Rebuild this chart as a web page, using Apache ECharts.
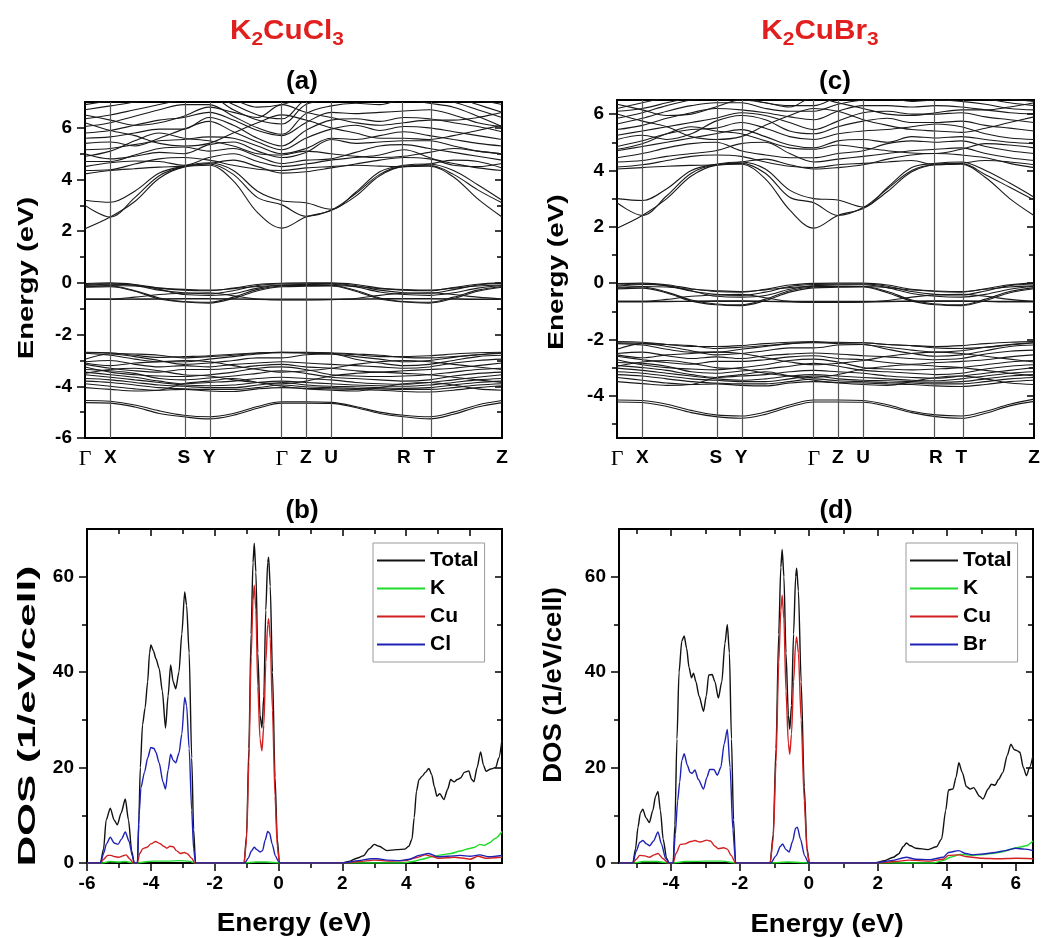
<!DOCTYPE html>
<html>
<head>
<meta charset="utf-8">
<script src="https://cdn.jsdelivr.net/npm/echarts@6/dist/echarts.min.js"></script>
<style>
html,body{margin:0;padding:0;background:#fff;}
#chart{width:1042px;height:938px;}
</style>
</head>
<body>
<div id="chart"></div>
<script>
// ---------- k-path ----------
// path coordinate (fraction of total length) of each sampled band energy
const kSample = [0, 0.0607, 0.1194, 0.1782, 0.2369, 0.2976, 0.3557, 0.4139, 0.4720, 0.5296, 0.5904, 0.6486, 0.7068, 0.7648, 0.8255, 0.8837, 0.9418, 1.0];
// high-symmetry points along the path
const kPointPos = [0, 0.0607, 0.2369, 0.2976, 0.4720, 0.5296, 0.5904, 0.7648, 0.8255, 1.0];
const kPointNames = ['Γ', 'X', 'S', 'Y', 'Γ', 'Z', 'U', 'R', 'T', 'Z'];

// ---------- K2CuCl3 bands (eV), one value per kSample ----------
const cbCl = [
  [2.10, 2.55, 3.15, 4.05, 4.48, 4.55, 3.95, 2.72, 2.12, 2.55, 2.80, 3.35, 4.15, 4.50, 4.52, 4.10, 3.25, 2.55],
  [3.00, 2.55, 3.30, 4.15, 4.50, 4.60, 4.20, 3.30, 3.02, 2.58, 2.82, 3.45, 4.20, 4.52, 4.55, 4.20, 3.60, 3.10],
  [3.20, 3.12, 3.55, 4.25, 4.52, 4.65, 4.35, 3.55, 3.18, 3.10, 2.85, 3.50, 4.30, 4.55, 4.60, 4.35, 3.80, 3.20],
  [4.22, 4.35, 4.42, 4.48, 4.52, 4.62, 4.75, 4.50, 4.25, 4.30, 4.45, 4.60, 4.75, 4.85, 4.80, 4.62, 4.45, 4.35],
  [4.35, 4.38, 4.60, 4.80, 4.85, 4.75, 4.55, 4.40, 4.35, 4.45, 4.50, 4.55, 4.52, 4.50, 4.60, 4.75, 4.70, 4.45],
  [4.50, 4.65, 4.72, 4.70, 4.55, 4.85, 5.00, 4.70, 4.50, 4.60, 4.75, 4.85, 4.95, 5.15, 4.85, 4.55, 4.50, 4.62],
  [4.70, 4.70, 4.95, 5.20, 5.26, 5.10, 5.20, 4.90, 4.62, 4.75, 4.80, 5.05, 5.30, 5.35, 5.20, 5.05, 4.90, 4.75],
  [5.00, 4.80, 4.90, 5.05, 5.00, 5.35, 5.45, 5.10, 4.85, 5.05, 5.55, 5.40, 5.45, 5.50, 5.50, 5.30, 5.10, 5.00],
  [5.15, 5.20, 5.35, 5.50, 5.55, 5.65, 5.60, 5.30, 5.00, 5.20, 5.60, 5.55, 5.70, 5.85, 5.70, 5.55, 5.40, 5.30],
  [5.40, 5.45, 5.30, 5.60, 5.95, 6.25, 5.85, 5.45, 5.15, 5.60, 5.95, 6.10, 5.90, 6.05, 6.00, 5.85, 5.70, 5.55],
  [5.60, 5.65, 5.80, 5.95, 5.95, 6.40, 6.10, 5.60, 5.30, 5.90, 6.30, 6.35, 6.25, 6.40, 6.35, 6.20, 6.05, 5.85],
  [5.80, 5.90, 6.10, 6.30, 6.40, 6.60, 6.30, 5.90, 5.70, 6.20, 6.60, 6.55, 6.60, 6.65, 6.70, 6.50, 6.20, 6.05],
  [6.05, 6.20, 6.45, 6.70, 6.90, 6.90, 6.45, 6.00, 5.75, 6.55, 6.85, 6.95, 6.90, 7.10, 6.95, 6.80, 6.45, 6.05],
  [6.35, 6.50, 6.70, 6.90, 7.10, 7.20, 6.70, 6.30, 6.15, 6.90, 7.10, 7.20, 7.10, 7.20, 7.20, 7.00, 6.70, 6.40],
  [6.70, 6.85, 7.00, 7.20, 7.20, 7.30, 6.90, 6.50, 6.35, 7.10, 7.30, 7.30, 7.30, 7.30, 7.30, 7.20, 6.90, 6.60],
  [6.90, 7.05, 7.20, 7.30, 7.30, 7.40, 7.10, 6.80, 6.90, 7.20, 7.40, 7.40, 7.40, 7.40, 7.40, 7.30, 7.10, 6.90],
  [4.90, 5.10, 5.50, 5.80, 5.60, 5.50, 5.30, 5.00, 4.95, 5.10, 5.00, 4.90, 4.85, 4.90, 5.05, 5.20, 5.10, 5.00],
  [6.20, 5.90, 5.70, 5.40, 5.30, 5.40, 5.80, 6.20, 6.50, 6.30, 6.00, 5.80, 5.60, 5.60, 5.55, 5.70, 5.90, 6.10],
  [6.50, 6.30, 6.10, 6.20, 6.45, 6.80, 6.60, 6.40, 6.90, 6.60, 6.40, 6.20, 6.10, 6.20, 6.30, 6.30, 6.40, 6.60]
];
const cuBandsCl = [
  [-0.02, 0.00, -0.06, -0.20, -0.28, -0.30, -0.20, -0.06, -0.01, 0.00, 0.00, -0.06, -0.20, -0.28, -0.30, -0.18, -0.05, 0.00],
  [-0.06, -0.03, -0.10, -0.28, -0.38, -0.42, -0.30, -0.10, -0.04, -0.03, -0.02, -0.10, -0.28, -0.38, -0.40, -0.26, -0.08, -0.02],
  [-0.12, -0.10, -0.12, -0.20, -0.25, -0.28, -0.22, -0.14, -0.10, -0.10, -0.10, -0.14, -0.22, -0.26, -0.28, -0.20, -0.12, -0.08],
  [-0.15, -0.12, -0.30, -0.58, -0.72, -0.75, -0.55, -0.25, -0.12, -0.10, -0.10, -0.28, -0.58, -0.72, -0.75, -0.55, -0.28, -0.14],
  [-0.17, -0.15, -0.32, -0.62, -0.74, -0.78, -0.60, -0.30, -0.15, -0.13, -0.12, -0.32, -0.62, -0.74, -0.78, -0.60, -0.32, -0.17],
  [-0.62, -0.62, -0.62, -0.62, -0.62, -0.62, -0.62, -0.62, -0.62, -0.62, -0.62, -0.62, -0.62, -0.62, -0.62, -0.62, -0.62, -0.62],
  [-0.64, -0.64, -0.63, -0.62, -0.60, -0.60, -0.62, -0.64, -0.65, -0.65, -0.64, -0.63, -0.61, -0.60, -0.60, -0.62, -0.64, -0.64],
  [-0.10, -0.05, -0.08, -0.25, -0.45, -0.48, -0.42, -0.20, -0.08, -0.06, -0.05, -0.15, -0.35, -0.45, -0.48, -0.38, -0.20, -0.10],
  [-0.62, -0.62, -0.55, -0.45, -0.40, -0.38, -0.50, -0.62, -0.66, -0.66, -0.65, -0.60, -0.48, -0.40, -0.38, -0.45, -0.55, -0.62]
];
const clBands = [
  [-2.68, -2.70, -2.80, -2.88, -2.85, -2.82, -2.76, -2.70, -2.68, -2.70, -2.72, -2.78, -2.85, -2.85, -2.82, -2.75, -2.70, -2.68],
  [-2.72, -2.80, -2.95, -3.05, -3.05, -2.95, -2.85, -2.75, -2.70, -2.72, -2.75, -2.85, -2.95, -3.05, -3.00, -2.88, -2.78, -2.72],
  [-2.95, -2.75, -2.85, -3.00, -3.15, -3.10, -3.00, -2.90, -2.90, -2.78, -2.75, -2.95, -3.10, -3.20, -3.15, -3.00, -2.85, -2.80],
  [-3.05, -3.00, -3.15, -3.25, -3.20, -3.25, -3.15, -3.10, -3.05, -3.10, -3.15, -3.20, -3.25, -3.30, -3.25, -3.10, -3.00, -2.95],
  [-3.15, -3.30, -3.40, -3.45, -3.35, -3.35, -3.30, -3.20, -3.15, -3.25, -3.30, -3.40, -3.45, -3.40, -3.35, -3.30, -3.20, -3.10],
  [-3.25, -3.45, -3.55, -3.60, -3.62, -3.55, -3.45, -3.30, -3.25, -3.35, -3.55, -3.60, -3.62, -3.60, -3.55, -3.45, -3.35, -3.30],
  [-3.35, -3.40, -3.50, -3.70, -3.75, -3.68, -3.60, -3.50, -3.40, -3.50, -3.65, -3.70, -3.75, -3.80, -3.75, -3.60, -3.50, -3.45],
  [-3.45, -3.55, -3.65, -3.80, -3.90, -3.85, -3.80, -3.70, -3.65, -3.70, -3.75, -3.85, -3.90, -3.92, -3.85, -3.75, -3.65, -3.55],
  [-3.55, -3.65, -3.75, -3.85, -3.95, -3.98, -3.95, -3.85, -3.80, -3.85, -3.90, -3.95, -3.98, -4.00, -3.95, -3.85, -3.75, -3.70],
  [-3.70, -3.75, -3.85, -3.95, -4.00, -4.05, -4.05, -3.95, -3.85, -3.95, -4.00, -4.02, -4.05, -4.08, -4.05, -3.95, -3.85, -3.80],
  [-3.80, -3.85, -3.95, -4.05, -4.10, -4.12, -4.12, -4.05, -3.95, -4.02, -4.05, -4.08, -4.10, -4.12, -4.12, -4.05, -3.95, -3.90],
  [-3.90, -4.00, -4.10, -4.15, -4.12, -4.18, -4.20, -4.10, -4.05, -4.08, -4.10, -4.12, -4.15, -4.20, -4.22, -4.15, -4.05, -3.98],
  [-4.05, -4.12, -4.18, -4.15, -3.90, -3.80, -3.70, -3.85, -4.00, -4.10, -4.15, -4.18, -4.05, -3.90, -3.85, -3.95, -4.10, -4.15],
  [-3.50, -3.35, -3.30, -3.40, -3.55, -3.60, -3.75, -3.85, -3.90, -3.80, -3.60, -3.50, -3.45, -3.50, -3.55, -3.65, -3.75, -3.85],
  [-2.70, -2.72, -2.75, -2.80, -2.90, -2.85, -2.80, -2.72, -2.68, -2.68, -2.70, -2.75, -2.80, -2.88, -2.90, -2.85, -2.78, -2.70],
  [-3.10, -3.20, -3.10, -3.05, -3.00, -3.05, -3.20, -3.35, -3.45, -3.40, -3.30, -3.15, -3.05, -3.00, -3.05, -3.15, -3.25, -3.35]
];
const lowBandsCl = [
  [-4.55, -4.58, -4.72, -4.95, -5.12, -5.18, -5.05, -4.78, -4.60, -4.60, -4.62, -4.78, -5.00, -5.12, -5.18, -5.00, -4.72, -4.55],
  [-4.63, -4.65, -4.80, -5.05, -5.18, -5.26, -5.12, -4.85, -4.65, -4.65, -4.66, -4.82, -5.05, -5.18, -5.26, -5.08, -4.80, -4.63]
];

// ---------- K2CuBr3 bands (eV) ----------
const cbBr = [
  [1.95, 2.40, 3.00, 3.80, 4.18, 4.22, 3.70, 2.60, 1.95, 2.40, 2.65, 3.25, 3.95, 4.20, 4.22, 3.75, 3.00, 2.40],
  [2.85, 2.40, 3.10, 3.90, 4.20, 4.25, 3.90, 3.05, 2.85, 2.40, 2.68, 3.35, 4.00, 4.22, 4.25, 3.85, 3.40, 2.95],
  [3.00, 2.93, 3.35, 4.00, 4.22, 4.30, 4.05, 3.30, 3.00, 2.95, 2.70, 3.40, 4.10, 4.25, 4.30, 4.00, 3.55, 3.05],
  [4.05, 4.10, 4.15, 4.18, 4.20, 4.30, 4.40, 4.20, 4.05, 4.10, 4.20, 4.40, 4.55, 4.60, 4.55, 4.45, 4.25, 4.10],
  [4.12, 4.20, 4.35, 4.50, 4.55, 4.50, 4.30, 4.15, 4.10, 4.20, 4.25, 4.30, 4.35, 4.20, 4.25, 4.35, 4.30, 4.20],
  [4.30, 4.35, 4.50, 4.60, 4.70, 4.95, 5.00, 4.60, 4.30, 4.40, 4.50, 4.60, 4.70, 4.75, 4.80, 4.60, 4.45, 4.35],
  [4.45, 4.60, 4.80, 4.95, 5.00, 4.70, 4.55, 4.45, 4.45, 4.60, 4.70, 4.95, 5.05, 5.00, 5.05, 4.85, 4.70, 4.60],
  [4.70, 4.85, 5.00, 5.15, 5.30, 5.45, 5.20, 4.90, 4.80, 5.05, 5.10, 5.00, 5.20, 5.15, 5.20, 5.10, 5.00, 4.95],
  [4.85, 5.05, 5.30, 5.45, 5.50, 5.70, 5.50, 5.20, 5.10, 5.30, 5.40, 5.45, 5.55, 5.65, 5.55, 5.30, 5.15, 5.10],
  [5.10, 5.25, 5.10, 5.30, 5.75, 5.95, 5.80, 5.40, 5.30, 5.55, 5.75, 5.85, 5.70, 5.70, 5.75, 5.60, 5.50, 5.40],
  [5.25, 5.40, 5.55, 5.70, 5.85, 6.05, 5.95, 5.70, 5.45, 5.75, 6.05, 6.10, 6.00, 6.00, 6.05, 5.90, 5.80, 5.70],
  [5.45, 5.60, 5.85, 6.05, 6.20, 6.15, 6.05, 5.90, 5.80, 6.10, 6.30, 6.30, 6.25, 6.30, 6.25, 6.15, 6.05, 6.00],
  [5.65, 5.85, 6.10, 6.30, 6.40, 6.40, 6.20, 6.10, 6.10, 6.35, 6.50, 6.55, 6.45, 6.50, 6.45, 6.35, 6.20, 6.15],
  [5.85, 6.05, 6.30, 6.50, 6.60, 6.60, 6.40, 6.30, 6.30, 6.60, 6.70, 6.70, 6.65, 6.70, 6.65, 6.55, 6.40, 6.30],
  [6.10, 6.20, 6.40, 6.60, 6.80, 6.70, 6.60, 6.50, 6.55, 6.75, 6.90, 6.90, 6.85, 6.90, 6.85, 6.70, 6.55, 6.45],
  [6.20, 6.40, 6.60, 6.80, 6.90, 6.90, 6.80, 6.70, 6.80, 6.90, 7.00, 7.00, 7.00, 7.00, 7.00, 6.90, 6.75, 6.60],
  [4.75, 4.95, 5.30, 5.55, 5.40, 5.30, 5.05, 4.80, 4.75, 4.90, 4.80, 4.70, 4.62, 4.60, 4.75, 4.95, 4.90, 4.80],
  [6.00, 5.75, 5.55, 5.20, 5.10, 5.20, 5.60, 5.95, 6.20, 6.10, 5.80, 5.60, 5.45, 5.40, 5.35, 5.50, 5.70, 5.90],
  [6.35, 6.15, 5.95, 6.00, 6.25, 6.50, 6.40, 6.25, 6.60, 6.40, 6.20, 6.00, 5.95, 6.05, 6.15, 6.15, 6.25, 6.40]
];
const cuBandsBr = [
  [-0.02, 0.00, -0.06, -0.20, -0.30, -0.32, -0.22, -0.07, -0.01, 0.00, 0.00, -0.07, -0.22, -0.30, -0.32, -0.20, -0.06, 0.00],
  [-0.07, -0.03, -0.10, -0.28, -0.40, -0.44, -0.32, -0.12, -0.05, -0.04, -0.03, -0.11, -0.30, -0.40, -0.42, -0.28, -0.09, -0.03],
  [-0.15, -0.12, -0.14, -0.22, -0.27, -0.30, -0.24, -0.16, -0.12, -0.12, -0.12, -0.16, -0.24, -0.28, -0.30, -0.22, -0.14, -0.10],
  [-0.18, -0.14, -0.32, -0.60, -0.74, -0.77, -0.57, -0.27, -0.14, -0.12, -0.12, -0.30, -0.60, -0.74, -0.77, -0.57, -0.30, -0.16],
  [-0.21, -0.18, -0.35, -0.64, -0.77, -0.80, -0.62, -0.32, -0.17, -0.15, -0.14, -0.34, -0.64, -0.77, -0.80, -0.62, -0.34, -0.20],
  [-0.65, -0.65, -0.65, -0.65, -0.65, -0.65, -0.65, -0.65, -0.65, -0.65, -0.65, -0.65, -0.65, -0.65, -0.65, -0.65, -0.65, -0.65],
  [-0.67, -0.67, -0.66, -0.65, -0.63, -0.63, -0.65, -0.67, -0.68, -0.68, -0.67, -0.66, -0.64, -0.63, -0.63, -0.65, -0.67, -0.67],
  [-0.11, -0.05, -0.09, -0.27, -0.47, -0.50, -0.44, -0.22, -0.09, -0.07, -0.06, -0.16, -0.37, -0.47, -0.50, -0.40, -0.22, -0.11],
  [-0.65, -0.65, -0.58, -0.47, -0.42, -0.40, -0.52, -0.65, -0.69, -0.69, -0.68, -0.62, -0.50, -0.42, -0.40, -0.47, -0.58, -0.65]
];
const brBands = [
  [-2.08, -2.10, -2.18, -2.25, -2.25, -2.22, -2.15, -2.10, -2.08, -2.12, -2.12, -2.18, -2.22, -2.25, -2.22, -2.15, -2.10, -2.08],
  [-2.15, -2.20, -2.35, -2.45, -2.45, -2.35, -2.25, -2.15, -2.12, -2.15, -2.18, -2.28, -2.38, -2.45, -2.40, -2.28, -2.18, -2.12],
  [-2.35, -2.15, -2.25, -2.40, -2.55, -2.50, -2.40, -2.30, -2.30, -2.20, -2.18, -2.35, -2.50, -2.60, -2.55, -2.40, -2.25, -2.20],
  [-2.50, -2.45, -2.58, -2.68, -2.62, -2.68, -2.58, -2.52, -2.48, -2.52, -2.58, -2.62, -2.68, -2.72, -2.68, -2.52, -2.42, -2.38],
  [-2.60, -2.72, -2.82, -2.88, -2.78, -2.78, -2.72, -2.62, -2.58, -2.68, -2.72, -2.82, -2.88, -2.82, -2.78, -2.72, -2.62, -2.55],
  [-2.72, -2.90, -3.00, -3.05, -3.08, -3.00, -2.90, -2.75, -2.70, -2.80, -3.00, -3.05, -3.08, -3.05, -3.00, -2.90, -2.80, -2.75],
  [-2.82, -2.85, -2.95, -3.15, -3.20, -3.12, -3.05, -2.95, -2.85, -2.95, -3.10, -3.15, -3.20, -3.25, -3.20, -3.05, -2.95, -2.90],
  [-2.92, -3.00, -3.10, -3.25, -3.35, -3.30, -3.25, -3.15, -3.10, -3.15, -3.20, -3.30, -3.35, -3.38, -3.30, -3.20, -3.10, -3.00],
  [-3.02, -3.10, -3.20, -3.30, -3.40, -3.45, -3.40, -3.30, -3.25, -3.30, -3.35, -3.40, -3.45, -3.47, -3.40, -3.30, -3.20, -3.15],
  [-3.15, -3.20, -3.30, -3.40, -3.45, -3.50, -3.50, -3.40, -3.30, -3.40, -3.45, -3.47, -3.50, -3.52, -3.50, -3.40, -3.30, -3.25],
  [-3.25, -3.30, -3.40, -3.50, -3.55, -3.58, -3.58, -3.50, -3.40, -3.47, -3.50, -3.53, -3.55, -3.58, -3.58, -3.50, -3.40, -3.35],
  [-3.35, -3.45, -3.55, -3.60, -3.58, -3.63, -3.65, -3.55, -3.50, -3.53, -3.55, -3.58, -3.60, -3.65, -3.67, -3.60, -3.50, -3.45],
  [-3.50, -3.57, -3.63, -3.60, -3.35, -3.25, -3.15, -3.30, -3.45, -3.55, -3.60, -3.63, -3.50, -3.35, -3.30, -3.40, -3.55, -3.60],
  [-2.95, -2.80, -2.75, -2.85, -3.00, -3.05, -3.20, -3.30, -3.35, -3.25, -3.05, -2.95, -2.90, -2.95, -3.00, -3.10, -3.20, -3.30],
  [-2.12, -2.14, -2.18, -2.22, -2.32, -2.28, -2.22, -2.15, -2.10, -2.10, -2.12, -2.18, -2.22, -2.30, -2.32, -2.28, -2.20, -2.12],
  [-2.55, -2.65, -2.55, -2.50, -2.45, -2.50, -2.65, -2.80, -2.90, -2.85, -2.75, -2.60, -2.50, -2.45, -2.50, -2.60, -2.70, -2.80]
];
const lowBandsBr = [
  [-4.15, -4.17, -4.30, -4.52, -4.68, -4.72, -4.58, -4.33, -4.15, -4.15, -4.17, -4.32, -4.55, -4.68, -4.72, -4.55, -4.30, -4.12],
  [-4.22, -4.24, -4.38, -4.60, -4.74, -4.80, -4.66, -4.40, -4.22, -4.22, -4.23, -4.38, -4.60, -4.74, -4.80, -4.62, -4.36, -4.20]
];

// ---------- density of states, [energy (eV), DOS (1/eV/cell)] ----------
const dosTotalCl = [[-6,0],[-5.58,0],[-5.48,3],[-5.40,9],[-5.27,11.5],[-5.15,9],[-5.05,8],[-4.93,10.5],[-4.80,13.4],[-4.70,9],[-4.60,2.5],[-4.52,0],[-4.42,0],[-4.38,8],[-4.33,20],[-4.26,29],[-4.18,32.5],[-4.10,38],[-4.04,44],[-4.00,45.7],[-3.92,44.5],[-3.84,42.8],[-3.74,40.8],[-3.64,36],[-3.54,28.3],[-3.46,35],[-3.38,41.5],[-3.30,38],[-3.22,36.5],[-3.12,40],[-3.03,48],[-2.94,56.8],[-2.88,54],[-2.80,44],[-2.72,22],[-2.66,7],[-2.60,0],
  [-1.08,0],[-1.00,6],[-0.93,24],[-0.86,48],[-0.80,63],[-0.76,67],[-0.71,61],[-0.65,44],[-0.58,31],[-0.52,28.3],[-0.46,35],[-0.40,53],[-0.34,63],[-0.31,64.1],[-0.26,58],[-0.19,40],[-0.11,18],[-0.04,5],[0.03,0],
  [2.0,0],[2.2,0.3],[2.45,1.0],[2.65,1.5],[2.85,3.0],[3.0,3.9],[3.15,3.5],[3.4,2.6],[3.7,2.8],[3.95,2.9],[4.08,3.5],[4.18,5],[4.25,9.5],[4.32,15],[4.4,17.5],[4.5,18.2],[4.6,19],[4.71,19.8],[4.8,18.5],[4.88,16],[4.96,14],[5.05,14.5],[5.18,13.3],[5.3,15.5],[5.39,17.5],[5.5,17.0],[5.6,17.5],[5.7,17.8],[5.82,19],[5.96,19.3],[6.05,17.5],[6.12,17],[6.22,20],[6.33,23.3],[6.42,20.5],[6.5,19.2],[6.65,19.7],[6.8,20],[6.9,22],[7.0,25.8]];
const dosKCl = [[-6,0],[-5.5,0],[-5.3,0.3],[-5.0,0.2],[-4.8,0.3],[-4.55,0],[-4.4,0],[-4.2,0.2],[-3.9,0.4],[-3.5,0.4],[-3.1,0.5],[-2.8,0.4],[-2.6,0],[-1.05,0],[-0.7,0.2],[-0.4,0.2],[0.03,0],[3.9,0],[4.2,0.3],[4.5,0.8],[4.8,1.3],[5.1,1.7],[5.4,2.0],[5.7,2.5],[5.95,3.0],[6.15,3.3],[6.3,3.9],[6.45,3.7],[6.6,4.2],[6.8,5.2],[7.0,6.6]];
const dosCuCl = [[-6,0],[-5.58,0],[-5.48,0.8],[-5.35,1.6],[-5.25,1.6],[-5.12,1.3],[-5.0,1.2],[-4.88,1.5],[-4.78,1.7],[-4.65,0.8],[-4.55,0],[-4.42,0],[-4.35,2.0],[-4.25,3.0],[-4.12,3.3],[-4.0,4.0],[-3.85,4.5],[-3.72,4.1],[-3.6,3.5],[-3.5,3.1],[-3.4,3.5],[-3.3,3.4],[-3.2,2.6],[-3.08,2.0],[-2.95,2.2],[-2.85,1.9],[-2.72,1.0],[-2.62,0],
  [-1.08,0],[-1.00,5],[-0.93,21],[-0.86,43],[-0.80,55],[-0.76,58.2],[-0.71,53],[-0.65,37],[-0.58,26],[-0.52,23.5],[-0.46,29],[-0.40,42],[-0.34,50],[-0.31,51.2],[-0.26,47],[-0.19,32],[-0.11,14],[-0.04,3.5],[0.03,0],
  [2.1,0],[2.5,0.3],[3.0,0.6],[3.5,0.4],[4.0,0.5],[4.3,1.1],[4.6,1.7],[4.8,1.4],[5.0,1.0],[5.3,1.1],[5.5,1.2],[5.8,1.0],[6.0,0.8],[6.25,1.4],[6.5,1.0],[6.8,1.1],[7.0,1.2]];
const dosCl = [[-6,0],[-5.58,0],[-5.48,2.0],[-5.39,4.0],[-5.27,5.4],[-5.15,4.2],[-5.03,3.9],[-4.92,5.0],[-4.80,6.5],[-4.68,4.5],[-4.58,1.5],[-4.52,0],[-4.42,0],[-4.37,10],[-4.31,15.8],[-4.2,19],[-4.1,22],[-4.0,24.2],[-3.9,24],[-3.84,23.2],[-3.74,21],[-3.62,17],[-3.54,15.5],[-3.46,19.5],[-3.38,22.8],[-3.3,21.5],[-3.22,21],[-3.12,23],[-3.03,27],[-2.94,34.7],[-2.88,33],[-2.80,24],[-2.72,11],[-2.66,3],[-2.60,0],
  [-1.06,0],[-0.95,1.0],[-0.85,2.5],[-0.76,3.3],[-0.68,2.8],[-0.58,2.3],[-0.5,2.6],[-0.42,4.8],[-0.34,6.6],[-0.28,6.3],[-0.2,4.0],[-0.1,1.5],[0.0,0.3],[0.05,0],
  [2.0,0],[2.5,0.5],[2.9,0.9],[3.1,0.9],[3.4,0.6],[3.8,0.5],[4.1,0.8],[4.4,1.6],[4.7,2.0],[5.0,1.3],[5.3,1.4],[5.7,1.6],[6.0,1.4],[6.3,1.7],[6.6,1.3],[7.0,1.6]];

const dosTotalBr = [[-5.5,0],[-5.1,0],[-5.02,3],[-4.95,7.5],[-4.88,10.5],[-4.81,11.3],[-4.72,9.5],[-4.62,8.5],[-4.52,11],[-4.44,14],[-4.37,15.0],[-4.30,11],[-4.22,5],[-4.12,1],[-4.05,0],[-3.93,0],[-3.88,8],[-3.82,26],[-3.76,40],[-3.68,46.5],[-3.61,47.6],[-3.54,45],[-3.47,41],[-3.40,38.8],[-3.34,39.8],[-3.27,38],[-3.18,35],[-3.05,31.8],[-2.97,35],[-2.90,39.4],[-2.80,39.5],[-2.72,38],[-2.62,34.6],[-2.52,38],[-2.43,46],[-2.36,50],[-2.30,44],[-2.24,26],[-2.18,9],[-2.12,0],
  [-1.12,0],[-1.03,6],[-0.95,24],[-0.87,48],[-0.81,62],[-0.77,65.7],[-0.72,60],[-0.66,44],[-0.59,31],[-0.55,28],[-0.50,33],[-0.44,48],[-0.38,60],[-0.35,61.8],[-0.30,57],[-0.22,38],[-0.13,16],[-0.05,3],[0.02,0],
  [1.9,0],[2.2,0.5],[2.45,1.2],[2.6,1.9],[2.75,3.5],[2.83,4.2],[2.95,3.6],[3.1,3.1],[3.46,2.8],[3.7,3.4],[3.85,5],[3.97,11],[4.05,15.3],[4.18,15.5],[4.27,18],[4.35,21],[4.45,19],[4.57,16],[4.68,15.5],[4.78,15.8],[4.95,14],[5.05,13.4],[5.2,15.5],[5.29,16.5],[5.4,16.3],[5.5,17.5],[5.63,19],[5.75,22.5],[5.86,24.9],[5.95,23.8],[6.05,23.5],[6.12,23.2],[6.22,20],[6.31,18.3],[6.4,20],[6.5,22.5]];
const dosKBr = [[-5.5,0],[-5.05,0],[-4.8,0.3],[-4.4,0.3],[-4.05,0],[-3.9,0],[-3.6,0.3],[-3.0,0.4],[-2.5,0.4],[-2.12,0],[-1.1,0],[-0.6,0.2],[0.0,0],[3.6,0],[3.9,0.5],[4.1,1.2],[4.4,1.8],[4.7,1.6],[5.0,1.7],[5.3,2.0],[5.6,2.3],[5.9,3.0],[6.1,3.3],[6.3,3.6],[6.5,4.6]];
const dosCuBr = [[-5.5,0],[-5.1,0],[-5.0,0.8],[-4.9,1.6],[-4.75,1.5],[-4.62,1.2],[-4.48,1.7],[-4.37,2.0],[-4.22,0.9],[-4.08,0],[-3.93,0],[-3.85,2.0],[-3.72,3.9],[-3.58,4.0],[-3.42,4.5],[-3.3,4.7],[-3.15,4.4],[-2.95,4.8],[-2.85,4.6],[-2.72,3.5],[-2.62,3.0],[-2.47,3.2],[-2.36,2.9],[-2.25,1.6],[-2.12,0],
  [-1.12,0],[-1.03,5],[-0.95,21],[-0.87,42],[-0.81,53],[-0.77,56.1],[-0.72,51],[-0.66,36],[-0.59,25],[-0.55,22.8],[-0.50,27],[-0.44,38],[-0.38,46],[-0.35,47.4],[-0.30,44],[-0.22,30],[-0.13,13],[-0.05,2.5],[0.02,0],
  [2.0,0],[2.5,0.3],[2.9,0.6],[3.5,0.4],[3.9,0.8],[4.05,1.6],[4.35,1.7],[4.6,1.3],[5.0,1.0],[5.5,0.9],[6.0,1.0],[6.5,0.9]];
const dosBr = [[-5.5,0],[-5.1,0],[-5.0,2.5],[-4.9,4.3],[-4.81,4.7],[-4.7,4.0],[-4.61,3.6],[-4.5,4.6],[-4.37,6.5],[-4.27,4],[-4.15,1],[-4.05,0],[-3.93,0],[-3.87,6],[-3.8,13],[-3.74,17],[-3.68,21.5],[-3.61,22.9],[-3.52,20.5],[-3.44,19],[-3.38,18.8],[-3.30,19.5],[-3.2,17.5],[-3.05,15.5],[-2.95,18],[-2.87,19.6],[-2.75,19.6],[-2.65,18.4],[-2.55,20],[-2.45,25],[-2.36,28],[-2.28,20],[-2.2,7],[-2.12,0],
  [-1.1,0],[-0.95,1.5],[-0.82,3.5],[-0.76,4.0],[-0.66,2.8],[-0.57,2.3],[-0.47,4.5],[-0.38,7.3],[-0.33,7.5],[-0.24,5],[-0.12,1.5],[0.0,0],
  [1.9,0],[2.4,0.5],[2.83,1.2],[3.1,0.8],[3.5,0.7],[3.9,1.2],[4.05,2.2],[4.35,2.6],[4.55,2.0],[4.75,1.7],[5.05,1.9],[5.4,2.2],[5.7,2.6],[6.0,3.1],[6.25,2.9],[6.5,2.6]];

// ---------- tick values ----------
const bandTicksCl = [-6, -4, -2, 0, 2, 4, 6];
const bandTicksBr = [-4, -2, 0, 2, 4, 6];
const bandMinor = [-5, -3, -1, 1, 3, 5];
const dosTicksY = [0, 20, 40, 60];
const dosMinorY = [10, 30, 50];
const dosTicksXCl = [-6, -4, -2, 0, 2, 4, 6];
const dosMinorXCl = [-5, -3, -1, 1, 3, 5];
const dosTicksXBr = [-4, -2, 0, 2, 4, 6];
const dosMinorXBr = [-5, -3, -1, 1, 3, 5];

// ---------- styling ----------
const FONT = '"Liberation Sans", Arial, Helvetica, sans-serif';
const RED_TITLE = '#e21f1f';
const COLORS = { Total: '#111111', K: '#1fdc2a', Cu: '#d21f1f', Cl: '#1e22b4', Br: '#1e22b4' };
const tickLine = { color: '#000', width: 1.5 };
const labelStyle = { fontFamily: FONT, fontWeight: 'bold', fontSize: 19, color: '#000' };

function yAx(grid, min, max, side, ticks, len, inside, labels) {
  return {
    type: 'value', gridIndex: grid, min: min, max: max, position: side,
    axisLine: { show: false, onZero: false }, splitLine: { show: false },
    axisTick: { show: true, inside: inside, length: len, customValues: ticks, lineStyle: tickLine },
    axisLabel: labels ? Object.assign({ customValues: labels, margin: 13 }, labelStyle) : { show: false }
  };
}
function xAx(grid, min, max, side, ticks, len, inside, labels) {
  return {
    type: 'value', gridIndex: grid, min: min, max: max, position: side,
    axisLine: { show: false, onZero: false }, splitLine: { show: false },
    axisTick: { show: true, inside: inside, length: len, customValues: ticks, lineStyle: tickLine },
    axisLabel: labels ? Object.assign({ customValues: labels, margin: 11 }, labelStyle) : { show: false }
  };
}
function kAxis(grid) {
  return {
    type: 'value', gridIndex: grid, min: 0, max: 1, position: 'bottom',
    axisLine: { show: false, onZero: false }, axisTick: { show: false }, splitLine: { show: false },
    axisLabel: Object.assign({
      customValues: kPointPos, margin: 10, showMinLabel: true, showMaxLabel: true,
      formatter: function (v) {
        let i = 0;
        for (let j = 0; j < kPointPos.length; j++) if (Math.abs(kPointPos[j] - v) < 1e-6) i = j;
        return kPointNames[i] === 'Γ' ? '{g|Γ}' : kPointNames[i];
      },
      rich: { g: { fontFamily: '"Liberation Serif", "DejaVu Serif", serif', fontSize: 22, fontWeight: 'normal', color: '#000' } }
    }, labelStyle)
  };
}

const gridBase = { show: true, borderColor: '#000', borderWidth: 2, containLabel: false, outerBoundsMode: 'none' };
const grids = [
  Object.assign({ left: 85, top: 102, width: 417, height: 336 }, gridBase),   // (a)
  Object.assign({ left: 617, top: 100, width: 417, height: 338 }, gridBase),  // (c)
  Object.assign({ left: 87, top: 529, width: 415, height: 334 }, gridBase),   // (b)
  Object.assign({ left: 619, top: 529, width: 414, height: 334 }, gridBase)   // (d)
];

const xAxes = [
  kAxis(0),
  kAxis(1),
  xAx(2, -6, 7, 'bottom', dosTicksXCl, 8, false, dosTicksXCl),
  xAx(2, -6, 7, 'bottom', dosMinorXCl, 5, false, null),
  xAx(2, -6, 7, 'top', dosTicksXCl, 7, true, null),
  xAx(2, -6, 7, 'top', dosMinorXCl, 5, true, null),
  xAx(3, -5.5, 6.5, 'bottom', dosTicksXBr, 8, false, dosTicksXBr),
  xAx(3, -5.5, 6.5, 'bottom', dosMinorXBr, 5, false, null),
  xAx(3, -5.5, 6.5, 'top', dosTicksXBr, 7, true, null),
  xAx(3, -5.5, 6.5, 'top', dosMinorXBr, 5, true, null)
];
function yAxesFor(grid, min, max, major, minor) {
  return [
    yAx(grid, min, max, 'left', major, 8, false, major),
    yAx(grid, min, max, 'left', minor, 5, false, null),
    yAx(grid, min, max, 'right', major, 7, true, null),
    yAx(grid, min, max, 'right', minor, 5, true, null)
  ];
}
const yAxes = [].concat(
  yAxesFor(0, -6, 7, bandTicksCl, bandMinor),
  yAxesFor(1, -5.5, 6.5, bandTicksBr, bandMinor),
  yAxesFor(2, 0, 70, dosTicksY, dosMinorY),
  yAxesFor(3, 0, 70, dosTicksY, dosMinorY)
);

// band lines for one panel; the first one also carries the k-point guide lines
function bandSeries(groups, xi, yi) {
  const out = [];
  groups.forEach(function (g) {
    g.forEach(function (b) {
      out.push({
        type: 'line', xAxisIndex: xi, yAxisIndex: yi, silent: true, showSymbol: false,
        smooth: 0.35, data: b.map(function (e, i) { return [kSample[i], e]; }),
        lineStyle: { color: '#1a1a1a', width: 1.1 }, z: 3
      });
    });
  });
  out[0].markLine = {
    symbol: ['none', 'none'], silent: true, animation: false, label: { show: false },
    lineStyle: { color: '#555', width: 1.2, type: 'solid' },
    data: kPointPos.slice(1, -1).map(function (v) { return { xAxis: v }; })
  };
  return out;
}
function dosSeries(name, pts, xi, yi) {
  return {
    type: 'line', name: name, xAxisIndex: xi, yAxisIndex: yi, data: pts, silent: true,
    showSymbol: false, smooth: 0.25, smoothMonotone: 'x',
    lineStyle: { color: COLORS[name], width: 1.4 }, itemStyle: { color: COLORS[name] }, z: 4
  };
}

const series = [].concat(
  bandSeries([cbCl, cuBandsCl, clBands, lowBandsCl], 0, 0),
  bandSeries([cbBr, cuBandsBr, brBands, lowBandsBr], 1, 4),
  [
    dosSeries('Total', dosTotalCl, 2, 8),
    dosSeries('K', dosKCl, 2, 8),
    dosSeries('Cu', dosCuCl, 2, 8),
    dosSeries('Cl', dosCl, 2, 8),
    dosSeries('Total', dosTotalBr, 6, 12),
    dosSeries('K', dosKBr, 6, 12),
    dosSeries('Cu', dosCuBr, 6, 12),
    dosSeries('Br', dosBr, 6, 12)
  ]
);

const legendBase = {
  orient: 'vertical', top: 543, itemWidth: 48, itemHeight: 2, itemGap: 7, icon: 'rect',
  padding: [7, 6, 7, 4], borderColor: '#9a9a9a', borderWidth: 1, selectedMode: false,
  textStyle: { fontFamily: FONT, fontWeight: 'bold', fontSize: 21, color: '#000' }
};
const legends = [
  Object.assign({ left: 373, data: ['Total', 'K', 'Cu', 'Cl'] }, legendBase),
  Object.assign({ left: 906, data: ['Total', 'K', 'Cu', 'Br'] }, legendBase)
];

function formula(x, halogen) {
  const m = { fontFamily: FONT, fontSize: 27, fontWeight: 'bold', fill: RED_TITLE };
  const s = { fontFamily: FONT, fontSize: 19, fontWeight: 'bold', fill: RED_TITLE, padding: [16, 0, 0, 0] };
  return {
    type: 'text', x: x, y: 32, scaleX: 1.1,
    style: { text: '{m|K}{s|2}{m|Cu' + halogen + '}{s|3}', rich: { m: m, s: s }, align: 'center', verticalAlign: 'middle' }
  };
}
function plainText(str, x, y, size, rot, sx) {
  return {
    type: 'text', x: x, y: y, rotation: rot || 0, scaleX: sx || 1,
    style: { text: str, font: 'bold ' + size + 'px ' + FONT, fill: '#000', align: 'center', verticalAlign: 'middle' }
  };
}
const graphics = [
  formula(287, 'Cl'),
  formula(820, 'Br'),
  plainText('(a)', 302, 82, 26),
  plainText('(c)', 835, 82, 26),
  plainText('(b)', 302, 511, 26),
  plainText('(d)', 836, 511, 26),
  plainText('Energy (eV)', 27, 278, 22, Math.PI / 2, 1.33),
  plainText('Energy (eV)', 557, 272, 22, Math.PI / 2, 1.27),
  plainText('DOS (1/eV/cell)', 28, 716, 24, Math.PI / 2, 1.76),
  plainText('DOS (1/eV/cell)', 554, 685, 25, Math.PI / 2, 1.10),
  plainText('Energy (eV)', 294, 924, 26, 0, 1.07),
  plainText('Energy (eV)', 827, 925, 26, 0, 1.06)
];

const chart = echarts.init(document.getElementById('chart'), null, { renderer: 'canvas' });
chart.setOption({
  animation: false,
  backgroundColor: '#fff',
  grid: grids,
  xAxis: xAxes,
  yAxis: yAxes,
  legend: legends,
  series: series,
  graphic: graphics
});
</script>
</body>
</html>
